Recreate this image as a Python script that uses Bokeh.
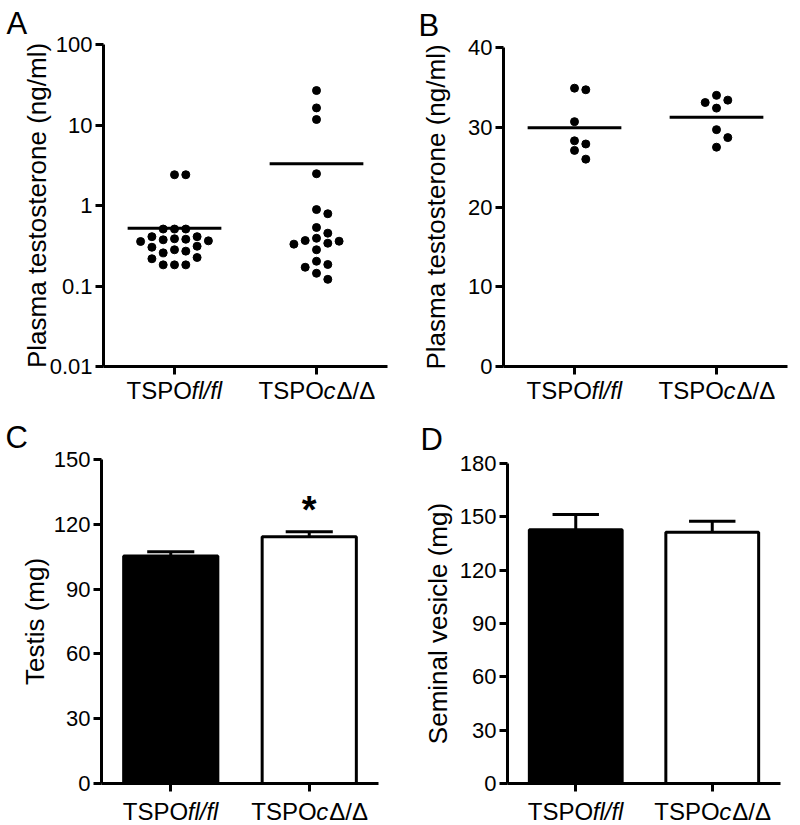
import numpy as np
from bokeh.plotting import figure
from bokeh.models import Range1d, FixedTicker, CustomJSTickFormatter, Label, ColumnDataSource
from bokeh.layouts import column, row
from bokeh.core.properties import value
from bokeh.embed import file_html
from bokeh.resources import INLINE

# ---------------- data ----------------
group_x = [1, 2]
# category labels: (text, font style) pieces
group_label_parts = [
    [("TSPO", "normal"), ("fl/fl", "italic")],
    [("TSPO", "normal"), ("c", "italic"), ("\u0394/\u0394", "normal")],
]

# Panel A: plasma testosterone (ng/ml), log scale
a_flfl = [2.41, 2.41, 0.51, 0.51, 0.51, 0.41, 0.41, 0.357, 0.381, 0.364, 0.375,
          0.386, 0.303, 0.312, 0.271, 0.258, 0.282, 0.226, 0.218, 0.183, 0.183, 0.183]
a_cdd = [26.8, 16.3, 11.7, 2.48, 0.89, 0.79, 0.533, 0.453, 0.392, 0.340, 0.367,
         0.331, 0.360, 0.282, 0.185, 0.171, 0.203, 0.144, 0.121]
a_ticks = [0.01, 0.1, 1, 10, 100]

# Panel B: plasma testosterone (ng/ml), linear
b_flfl = [34.9, 34.7, 30.7, 28.3, 27.9, 27.1, 26.0]
b_cdd = [34.0, 33.4, 33.1, 32.4, 29.7, 28.7, 27.5]
b_ticks = [0, 10, 20, 30, 40]

# Panel C: testis weight (mg)
c_mean = [105.3, 114.2]
c_sem = [2.0, 2.3]
c_sig = ["", "*"]
c_ticks = [0, 30, 60, 90, 120, 150]

# Panel D: seminal vesicle weight (mg)
d_mean = [142.7, 141.3]
d_sem = [8.6, 6.2]
d_ticks = [0, 30, 60, 90, 120, 150, 180]

bar_fill = ["black", "white"]
panel_letters = ["A", "B", "C", "D"]

# ---------------- style ----------------
FONT = "Liberation Sans"
W = 400
XR = (0.5, 2.5)
LABEL_PART_OFFSETS = [[-48, 17], [-58, 7, 20]]


def label_strip(p, h, bl, br, base):
    s = figure(width=W, height=h, x_range=p.x_range, y_range=Range1d(0, h),
               x_axis_location=None, y_axis_location=None, title=None,
               output_backend="svg", toolbar_location=None,
               min_border_left=bl, min_border_right=br,
               min_border_top=0, min_border_bottom=0)
    s.outline_line_color = None
    s.background_fill_color = "white"
    s.border_fill_color = "white"
    for g in s.grid:
        g.visible = False
    for gx, parts, offs in zip(group_x, group_label_parts, LABEL_PART_OFFSETS):
        for (txt, style), off in zip(parts, offs):
            s.text(x=[gx], y=[base], text=[txt], x_offset=off, text_align="left",
                   text_baseline="alphabetic", text_font=value(FONT),
                   text_font_size="24px", text_font_style=style, text_color="black")
    return s


def base_fig(h, bl, br, bt, bb, y_range, letter, letter_left, letter_standoff, y_type="linear"):
    p = figure(width=W, height=h, x_range=Range1d(*XR), y_range=y_range,
               y_axis_type=y_type, output_backend="svg", toolbar_location=None,
               min_border_left=bl, min_border_right=br, min_border_top=bt,
               min_border_bottom=bb, title=letter)
    p.title.text_font = FONT
    p.title.text_font_size = "31px"
    p.title.text_font_style = "normal"
    p.title.text_color = "black"
    p.title.align = "left"
    p.title.offset = letter_left - bl
    p.title.standoff = letter_standoff
    p.outline_line_color = None
    p.xgrid.visible = False
    p.ygrid.visible = False
    p.background_fill_color = "white"
    p.border_fill_color = "white"
    for ax in (p.xaxis[0], p.yaxis[0]):
        ax.axis_line_width = 3
        ax.axis_line_color = "black"
        ax.major_tick_line_width = 3
        ax.major_tick_line_color = "black"
        ax.major_tick_out = 8
        ax.major_tick_in = 0
        ax.minor_tick_line_color = None
        ax.major_label_text_font = FONT
        ax.major_label_text_font_size = "22px"
        ax.major_label_text_color = "black"
        ax.major_label_standoff = 3
        ax.axis_label_text_font = FONT
        ax.axis_label_text_font_size = "26px"
        ax.axis_label_text_font_style = "normal"
        ax.axis_label_text_color = "black"
    p.xaxis.ticker = FixedTicker(ticks=group_x)
    p.xaxis.formatter = CustomJSTickFormatter(code="return ''")
    p.xaxis.major_label_text_font_size = "0px"
    p.xaxis.major_label_standoff = 0
    return p


def swarm(vals, to_px, col_px, min_dy):
    """Column-binned beeswarm: returns horizontal pixel offsets."""
    ys = [to_px(v) for v in vals]
    order = sorted(range(len(vals)), key=lambda i: ys[i])
    cols = {}
    offs = [0.0] * len(vals)
    cands = [0]
    for n in range(1, 30):
        cands += [n, -n]
    for i in order:
        for c in cands:
            if all(abs(ys[i] - yy) >= min_dy for yy in cols.get(c, [])):
                cols.setdefault(c, []).append(ys[i])
                offs[i] = c * col_px
                break
    return offs


def dot_panel(p, groups, to_px, frame_w):
    px_per_x = frame_w / (XR[1] - XR[0])
    for gx, vals in zip(group_x, groups):
        offs = swarm(vals, to_px, 11.3, 9.5)
        xs = [gx + o / px_per_x for o in offs]
        p.scatter(xs, vals, size=8, color="black")
        m = float(np.mean(vals))
        p.segment(x0=[gx - 0.33], y0=[m], x1=[gx + 0.33], y1=[m],
                  line_width=3, line_color="black")


def bar_panel(p, means, sems):
    src = ColumnDataSource(dict(x=group_x, top=means, fill=bar_fill))
    p.vbar(x="x", top="top", bottom=0, width=0.68, source=src,
           fill_color="fill", line_color="black", line_width=3)
    tops = [m + s for m, s in zip(means, sems)]
    p.segment(x0=group_x, y0=means, x1=group_x, y1=tops, line_width=3, line_color="black")
    p.segment(x0=[g - 0.17 for g in group_x], y0=tops,
              x1=[g + 0.17 for g in group_x], y1=tops, line_width=3, line_color="black")
    return tops


TOP_M, TOP_B = 378, 35
BOT_M, BOT_B = 382, 30

# ---------------- Panel A ----------------
bl, br, bt, bb = 103, 13, 44, 12
pa = base_fig(TOP_M, bl, br, bt, bb, Range1d(a_ticks[0], a_ticks[-1]),
              panel_letters[0], 6, 7, "log")
fh = TOP_M - bt - bb
decade_px = fh / (np.log10(a_ticks[-1]) - np.log10(a_ticks[0]))
pa.yaxis.ticker = FixedTicker(ticks=a_ticks)
pa.yaxis.formatter = CustomJSTickFormatter(code="return tick.toString()")
pa.yaxis.axis_label = "Plasma testosterone (ng/ml)"
pa.yaxis.axis_label_standoff = -5
dot_panel(pa, [a_flfl, a_cdd], lambda v: -np.log10(v) * decade_px, W - bl - br)
colA = column(pa, label_strip(pa, TOP_B, bl, br, 23))

# ---------------- Panel B ----------------
bl, br, bt, bb = 103, 13, 47, 12
pb = base_fig(TOP_M, bl, br, bt, bb, Range1d(b_ticks[0], b_ticks[-1]),
              panel_letters[1], 18, 10)
fh = TOP_M - bt - bb
unit_px = fh / (b_ticks[-1] - b_ticks[0])
pb.yaxis.ticker = FixedTicker(ticks=b_ticks)
pb.yaxis.axis_label = "Plasma testosterone (ng/ml)"
pb.yaxis.axis_label_standoff = 14
dot_panel(pb, [b_flfl, b_cdd], lambda v: -v * unit_px, W - bl - br)
colB = column(pb, label_strip(pb, TOP_B, bl, br, 23))

# ---------------- Panel C ----------------
bl, br, bt, bb = 101, 22, 45, 12
pc = base_fig(BOT_M, bl, br, bt, bb, Range1d(c_ticks[0], c_ticks[-1]),
              panel_letters[2], 5, 9)
pc.yaxis.ticker = FixedTicker(ticks=c_ticks)
pc.yaxis.axis_label = "Testis (mg)"
pc.yaxis.axis_label_standoff = 1
tops_c = bar_panel(pc, c_mean, c_sem)
for gx, t, s in zip(group_x, tops_c, c_sig):
    if s:
        pc.add_layout(Label(x=gx, y=t, y_offset=22, text=s, text_align="center",
                            text_baseline="alphabetic", text_font=FONT,
                            text_font_size="38px", text_font_style="bold",
                            text_color="black"))
colC = column(pc, label_strip(pc, BOT_B, bl, br, 14))

# ---------------- Panel D ----------------
bl, br, bt, bb = 107, 20, 50, 12
pd_ = base_fig(BOT_M, bl, br, bt, bb, Range1d(d_ticks[0], d_ticks[-1]),
               panel_letters[3], 20, 13)
pd_.yaxis.ticker = FixedTicker(ticks=d_ticks)
pd_.yaxis.axis_label = "Seminal vesicle (mg)"
pd_.yaxis.axis_label_standoff = 4
bar_panel(pd_, d_mean, d_sem)
colD = column(pd_, label_strip(pd_, BOT_B, bl, br, 14))

layout = column(row(colA, colB), row(colC, colD))
open("out.html", "w").write(file_html(layout, INLINE))
